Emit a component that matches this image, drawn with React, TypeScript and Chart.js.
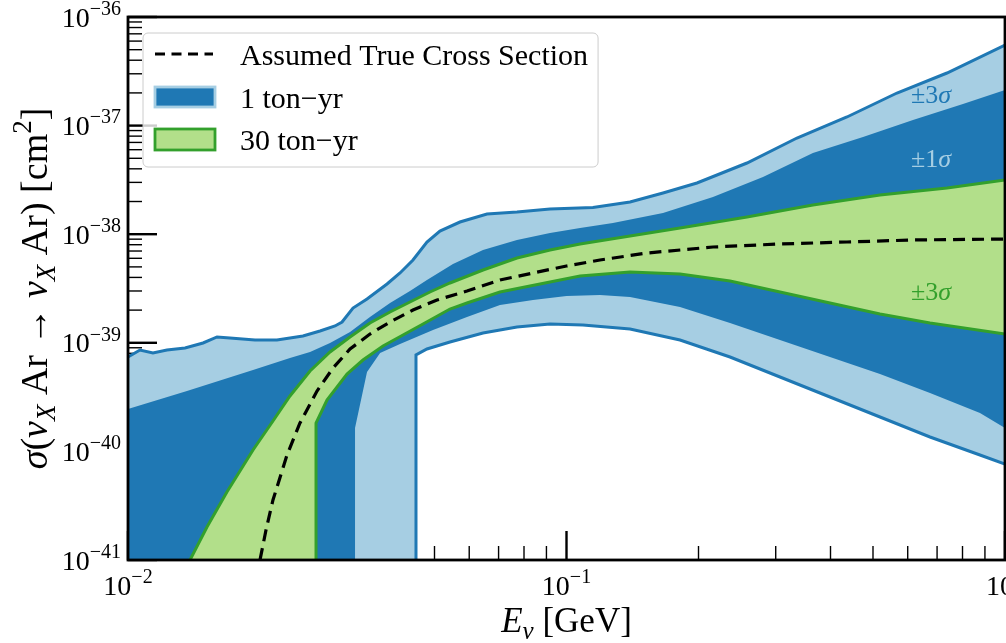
import React, { useEffect, useRef } from 'react';
import { Chart, registerables } from 'chart.js';

Chart.register(...registerables);

// ---------------- axes ----------------
const X_MIN = 0.01;
const X_MAX = 1;
const Y_MIN = 1e-41;
const Y_MAX = 1e-36;
const FLOOR = 1e-42; // below the visible range (vertical drop-offs)

const X_TICKS = [0.01, 0.1, 1];
const X_TICK_LABELS = [['10', '−2'], ['10', '−1'], ['10', '0']];
const Y_TICKS = [1e-41, 1e-40, 1e-39, 1e-38, 1e-37, 1e-36];
const Y_TICK_LABELS = [['10', '−41'], ['10', '−40'], ['10', '−39'], ['10', '−38'], ['10', '−37'], ['10', '−36']];
const MINOR_STEPS = [2, 3, 4, 5, 6, 7, 8, 9];

// ---------------- data (E in GeV, sigma in cm^2) ----------------
// 1 ton-yr, +3 sigma edge
const UP3_E = [0.01, 0.01065, 0.0114, 0.01227, 0.01349, 0.01483, 0.01596, 0.01708, 0.01948, 0.02186, 0.02506, 0.02741, 0.02966, 0.03077, 0.03259, 0.03508, 0.03897, 0.04172, 0.04466, 0.04806, 0.05145, 0.05715, 0.06587, 0.0771, 0.09171, 0.1149, 0.1396, 0.166, 0.1984, 0.258, 0.3354, 0.4361, 0.5671, 0.7374, 1.0];
const UP3_SIGMA = [7.4e-40, 8.58e-40, 8.05e-40, 8.58e-40, 8.96e-40, 9.96e-40, 1.131e-39, 1.107e-39, 1.061e-39, 1.061e-39, 1.155e-39, 1.284e-39, 1.428e-39, 1.554e-39, 2.091e-39, 2.531e-39, 3.478e-39, 4.392e-39, 5.785e-39, 8.478e-39, 1.07e-38, 1.295e-38, 1.535e-38, 1.601e-38, 1.706e-38, 1.76e-38, 1.979e-38, 2.395e-38, 2.961e-38, 4.524e-38, 7.686e-38, 1.2e-37, 1.996e-37, 3.05e-37, 5.523e-37];
// 1 ton-yr, -3 sigma edge
const LO3_E = [0.04537, 0.04537, 0.04806, 0.05423, 0.0645, 0.0771, 0.09171, 0.109, 0.1396, 0.1815, 0.236, 0.3068, 0.3989, 0.5187, 0.6745, 0.8769, 1.0];
const LO3_SIGMA = [FLOOR, 7.72e-40, 8.77e-40, 1.017e-39, 1.231e-39, 1.398e-39, 1.49e-39, 1.458e-39, 1.34e-39, 1.061e-39, 7.4e-40, 4.842e-40, 3.17e-40, 2.074e-40, 1.357e-40, 9.27e-41, 7.66e-41];
// 1 ton-yr, +1 sigma edge
const UP1_E = [0.01, 0.01363, 0.01928, 0.02341, 0.02601, 0.02889, 0.03209, 0.03563, 0.03959, 0.04396, 0.04806, 0.0551, 0.0645, 0.0771, 0.09171, 0.1074, 0.1276, 0.166, 0.2158, 0.2806, 0.3647, 0.4745, 0.6168, 0.8019, 1.0];
const UP1_SIGMA = [2.457e-40, 3.6e-40, 5.617e-40, 7.244e-40, 8.23e-40, 9.96e-40, 1.257e-39, 1.729e-39, 2.325e-39, 2.999e-39, 3.787e-39, 5.316e-39, 7.153e-39, 8.845e-39, 1.026e-38, 1.141e-38, 1.268e-38, 1.568e-38, 2.201e-38, 3.363e-38, 5.593e-38, 7.85e-38, 1.126e-37, 1.581e-37, 2.127e-37];
// 1 ton-yr, -1 sigma edge
const LO1_E = [0.03294, 0.03294, 0.03508, 0.03757, 0.04172, 0.04961, 0.0593, 0.07052, 0.08387, 0.1, 0.1192, 0.1396, 0.1815, 0.236, 0.3068, 0.3989, 0.5187, 0.6745, 0.8769, 1.0];
const LO1_SIGMA = [FLOOR, 1.642e-40, 5.384e-40, 8.05e-40, 9.75e-40, 1.311e-39, 1.729e-39, 2.228e-39, 2.478e-39, 2.697e-39, 2.755e-39, 2.64e-39, 2.136e-39, 1.522e-39, 1.061e-39, 7.4e-40, 5.16e-40, 3.45e-40, 2.257e-40, 1.642e-40];
// 30 ton-yr, upper edge
const UP30_E = [0.01385, 0.01514, 0.01681, 0.01928, 0.02141, 0.02341, 0.02601, 0.02889, 0.03209, 0.03563, 0.03959, 0.04396, 0.04883, 0.05423, 0.0645, 0.0771, 0.09171, 0.1074, 0.1396, 0.1815, 0.258, 0.3647, 0.5187, 0.7374, 1.0];
const UP30_SIGMA = [1e-41, 2.013e-41, 4.228e-41, 1.03e-40, 1.905e-40, 3.236e-40, 5.499e-40, 8.23e-40, 1.131e-39, 1.522e-39, 1.922e-39, 2.375e-39, 2.936e-39, 3.553e-39, 4.68e-39, 6.035e-39, 7.153e-39, 8.126e-39, 9.625e-39, 1.141e-38, 1.44e-38, 1.858e-38, 2.296e-38, 2.663e-38, 3.155e-38];
// 30 ton-yr, lower edge
const LO30_E = [0.02684, 0.02684, 0.02843, 0.03158, 0.03434, 0.03816, 0.04238, 0.04707, 0.05423, 0.0593, 0.07052, 0.09171, 0.1074, 0.1396, 0.1815, 0.236, 0.3068, 0.3989, 0.5187, 0.6745, 1.0];
const LO30_SIGMA = [FLOOR, 1.826e-40, 2.973e-40, 5.16e-40, 6.943e-40, 9.34e-40, 1.18e-39, 1.49e-39, 2.047e-39, 2.325e-39, 2.936e-39, 3.63e-39, 4.122e-39, 4.486e-39, 4.3e-39, 3.708e-39, 2.936e-39, 2.325e-39, 1.842e-39, 1.522e-39, 1.205e-39];
// assumed true cross section
const TRUE_E = [0.01968, 0.02, 0.02064, 0.02141, 0.02305, 0.02467, 0.02698, 0.02935, 0.03209, 0.03563, 0.03959, 0.04466, 0.05066, 0.0593, 0.07052, 0.08387, 0.1, 0.1192, 0.1526, 0.2158, 0.3068, 0.4361, 0.6168, 1.0];
const TRUE_SIGMA = [3e-42, 1e-41, 1.888e-41, 3.568e-41, 9.27e-41, 1.826e-40, 3.6e-40, 5.861e-40, 8.77e-40, 1.205e-39, 1.554e-39, 2.004e-39, 2.478e-39, 2.999e-39, 3.787e-39, 4.392e-39, 5.095e-39, 5.785e-39, 6.712e-39, 7.62e-39, 8.126e-39, 8.478e-39, 8.845e-39, 9.03e-39];

// in-plot annotations
const ANNOT_TEXT = ['±3σ', '±1σ', '±3σ'];
const ANNOT_E = [0.678, 0.678, 0.678];
const ANNOT_SIGMA = [1.614e-37, 4.157e-38, 2.478e-39];

const LEGEND_LABELS = ['Assumed True Cross Section', '1 ton−yr', '30 ton−yr'];

// ---------------- styles ----------------
const LIGHT_BLUE = '#a6cee3';
const DARK_BLUE = '#1f78b4';
const LIGHT_GREEN = '#b2df8a';
const GREEN = '#33a02c';
const ANNOT_COLORS = [DARK_BLUE, LIGHT_BLUE, GREEN];
const SERIF = '"Liberation Serif", "DejaVu Serif", serif';

type Run = { t: string; italic?: boolean; sub?: boolean; sup?: boolean };

const Y_TITLE: Run[] = [
  { t: 'σ', italic: true }, { t: '(' }, { t: 'ν', italic: true }, { t: 'X', italic: true, sub: true },
  { t: ' Ar → ' }, { t: 'ν', italic: true }, { t: 'X', italic: true, sub: true },
  { t: ' Ar) [cm' }, { t: '2', sup: true }, { t: ']' },
];
const X_TITLE: Run[] = [{ t: 'E', italic: true }, { t: 'ν', italic: true, sub: true }, { t: ' [GeV]' }];

const pairs = (xs: number[], ys: number[]) => xs.map((x, i) => ({ x, y: ys[i] }));
const band = (ue: number[], us: number[], le: number[], ls: number[], closeE?: number) => {
  const p = pairs(ue, us).concat(pairs(le, ls).reverse());
  if (closeE !== undefined) p.push({ x: closeE, y: FLOOR });
  return p;
};

function drawRuns(ctx: CanvasRenderingContext2D, runs: Run[], size: number, ax: number, by: number, align: 'center' | 'right' = 'center', supScale = 0.7) {
  const fontFor = (r: Run) => `${r.italic ? 'italic ' : ''}${r.sub || r.sup ? Math.round(size * supScale) : size}px ${SERIF}`;
  const widths = runs.map((r) => { ctx.font = fontFor(r); return ctx.measureText(r.t).width; });
  const total = widths.reduce((a, b) => a + b, 0);
  let x = align === 'center' ? ax - total / 2 : ax - total;
  ctx.textAlign = 'left';
  ctx.textBaseline = 'alphabetic';
  runs.forEach((r, i) => {
    ctx.font = fontFor(r);
    const dy = r.sub ? size * 0.2 : r.sup ? -size * 0.42 : 0;
    ctx.fillText(r.t, x, by + dy);
    x += widths[i];
  });
}

const decor = {
  id: 'decor',
  beforeDatasetsDraw(chart: any) {
    const { ctx, chartArea: ca, scales } = chart;
    const xs = scales.x, ys = scales.y;
    ctx.save();
    ctx.strokeStyle = '#000';
    const tick = (major: boolean, horiz: boolean, p: number) => {
      ctx.lineWidth = major ? 2.4 : 1.4;
      const len = major ? 29 : 14;
      ctx.beginPath();
      if (horiz) { ctx.moveTo(p, ca.bottom); ctx.lineTo(p, ca.bottom - len); }
      else { ctx.moveTo(ca.left, p); ctx.lineTo(ca.left + len, p); }
      ctx.stroke();
    };
    X_TICKS.forEach((v, i) => {
      tick(true, true, xs.getPixelForValue(v));
      if (i < X_TICKS.length - 1) MINOR_STEPS.forEach((m) => tick(false, true, xs.getPixelForValue(v * m)));
    });
    Y_TICKS.forEach((v, i) => {
      tick(true, false, ys.getPixelForValue(v));
      if (i < Y_TICKS.length - 1) MINOR_STEPS.forEach((m) => tick(false, false, ys.getPixelForValue(v * m)));
    });
    ctx.restore();
  },
  afterDatasetsDraw(chart: any) {
    const { ctx, chartArea: ca, scales } = chart;
    ctx.save();
    // annotations
    ANNOT_TEXT.forEach((t, i) => {
      const x = scales.x.getPixelForValue(ANNOT_E[i]);
      const y = scales.y.getPixelForValue(ANNOT_SIGMA[i]);
      ctx.fillStyle = ANNOT_COLORS[i];
      drawRuns(ctx, [{ t: t.slice(0, -1) }, { t: t.slice(-1), italic: true }], 26, x, y);
    });
    // frame
    ctx.strokeStyle = '#000';
    ctx.lineWidth = 2.8;
    ctx.strokeRect(ca.left, ca.top, ca.right - ca.left, ca.bottom - ca.top);
    ctx.restore();
  },
  afterDraw(chart: any) {
    const { ctx, chartArea: ca, scales } = chart;
    ctx.save();
    ctx.fillStyle = '#000';
    // tick labels (base + raised exponent), placed with the chart's scales
    X_TICKS.forEach((v, i) => {
      const [b, e] = X_TICK_LABELS[i];
      drawRuns(ctx, [{ t: b }, { t: e, sup: true }], 28, scales.x.getPixelForValue(v), ca.bottom + 35);
    });
    Y_TICKS.forEach((v, i) => {
      const [b, e] = Y_TICK_LABELS[i];
      drawRuns(ctx, [{ t: b }, { t: e, sup: true }], 28, ca.left - 7, scales.y.getPixelForValue(v) + 9.5, 'right');
    });
    // axis titles
    drawRuns(ctx, X_TITLE, 35, (ca.left + ca.right) / 2, ca.bottom + 72);
    ctx.save();
    ctx.translate(ca.left - 81, (ca.top + ca.bottom) / 2);
    ctx.rotate(-Math.PI / 2);
    drawRuns(ctx, Y_TITLE, 38, 0, 0);
    ctx.restore();
    // legend
    const lx = ca.left + 15, ly = ca.top + 16;
    ctx.font = `30px ${SERIF}`;
    const tw = Math.max(...LEGEND_LABELS.map((t) => ctx.measureText(t).width));
    const w = 97 + tw + 10, h = 134, r = 5;
    ctx.beginPath();
    ctx.moveTo(lx + r, ly);
    ctx.lineTo(lx + w - r, ly);
    ctx.arcTo(lx + w, ly, lx + w, ly + r, r);
    ctx.lineTo(lx + w, ly + h - r);
    ctx.arcTo(lx + w, ly + h, lx + w - r, ly + h, r);
    ctx.lineTo(lx + r, ly + h);
    ctx.arcTo(lx, ly + h, lx, ly + h - r, r);
    ctx.lineTo(lx, ly + r);
    ctx.arcTo(lx, ly, lx + r, ly, r);
    ctx.closePath();
    ctx.fillStyle = 'rgba(255,255,255,0.8)';
    ctx.fill();
    ctx.strokeStyle = '#cccccc';
    ctx.lineWidth = 1;
    ctx.stroke();
    // row 0: dashed line
    ctx.setLineDash([10, 6.5]);
    ctx.strokeStyle = '#000';
    ctx.lineWidth = 3.2;
    ctx.beginPath();
    ctx.moveTo(lx + 12, ly + 21);
    ctx.lineTo(lx + 70, ly + 21);
    ctx.stroke();
    ctx.setLineDash([]);
    // rows 1 & 2: patches
    ctx.lineWidth = 2.8;
    ctx.fillStyle = DARK_BLUE;
    ctx.fillRect(lx + 12, ly + 54, 60, 20);
    ctx.strokeStyle = LIGHT_BLUE;
    ctx.strokeRect(lx + 12, ly + 54, 60, 20);
    ctx.fillStyle = LIGHT_GREEN;
    ctx.fillRect(lx + 12, ly + 96, 60, 21);
    ctx.strokeStyle = GREEN;
    ctx.strokeRect(lx + 12, ly + 96, 60, 21);
    // labels
    ctx.fillStyle = '#000';
    ctx.font = `30px ${SERIF}`;
    ctx.textAlign = 'left';
    ctx.textBaseline = 'alphabetic';
    const baselines = [32, 75, 117];
    LEGEND_LABELS.forEach((t, i) => ctx.fillText(t, lx + 97, ly + baselines[i]));
    ctx.restore();
  },
};

const lineDs = (label: string, data: any[], color: string, width: number, order: number, dash: number[] = []) => ({
  label, data, borderColor: color, borderWidth: width, borderDash: dash, fill: false,
  pointRadius: 0, pointHitRadius: 0, tension: 0, order,
});
const bandDs = (label: string, data: any[], color: string, order: number) => ({
  label, data, borderColor: 'rgba(0,0,0,0)', borderWidth: 0, backgroundColor: color, fill: 'shape',
  pointRadius: 0, pointHitRadius: 0, tension: 0, order,
});

export default function App() {
  const ref = useRef<HTMLCanvasElement>(null);
  useEffect(() => {
    if (!ref.current) return;
    const chart = new Chart(ref.current, {
      type: 'line',
      data: {
        datasets: [
          lineDs(LEGEND_LABELS[0], pairs(TRUE_E, TRUE_SIGMA), '#000', 3.2, 0, [12, 7]),
          lineDs('30 ton−yr upper', pairs(UP30_E, UP30_SIGMA), GREEN, 3, 1),
          lineDs('30 ton−yr lower', pairs(LO30_E, LO30_SIGMA), GREEN, 3, 1),
          bandDs(LEGEND_LABELS[2], band(UP30_E, UP30_SIGMA, LO30_E, LO30_SIGMA), LIGHT_GREEN, 2),
          lineDs('1 ton−yr +3σ', pairs(UP3_E, UP3_SIGMA), DARK_BLUE, 3, 3),
          lineDs('1 ton−yr −3σ', pairs(LO3_E, LO3_SIGMA), DARK_BLUE, 3, 3),
          bandDs(LEGEND_LABELS[1] + ' ±1σ', band(UP1_E, UP1_SIGMA, LO1_E, LO1_SIGMA, X_MIN), DARK_BLUE, 4),
          bandDs(LEGEND_LABELS[1] + ' ±3σ', band(UP3_E, UP3_SIGMA, LO3_E, LO3_SIGMA, X_MIN), LIGHT_BLUE, 5),
        ] as any,
      },
      options: {
        responsive: false,
        devicePixelRatio: 1,
        animation: false,
        events: [],
        layout: { padding: { left: 0, top: 17, right: 1, bottom: 0 } },
        plugins: { legend: { display: false }, tooltip: { enabled: false } },
        scales: {
          x: {
            type: 'logarithmic',
            min: X_MIN,
            max: X_MAX,
            afterBuildTicks: (s: any) => { s.ticks = X_TICKS.map((v) => ({ value: v })); },
            afterFit: (s: any) => { s.height = 83; s.paddingLeft = 0; s.paddingRight = 0; },
            ticks: { display: false, autoSkip: false, maxRotation: 0, minRotation: 0 },
            grid: { display: false, drawTicks: false },
            border: { display: false },
          },
          y: {
            type: 'logarithmic',
            min: Y_MIN,
            max: Y_MAX,
            afterBuildTicks: (s: any) => { s.ticks = Y_TICKS.map((v) => ({ value: v })); },
            afterFit: (s: any) => { s.width = 128; s.paddingTop = 0; s.paddingBottom = 0; },
            ticks: { display: false, autoSkip: false },
            grid: { display: false, drawTicks: false },
            border: { display: false },
          },
        },
      } as any,
      plugins: [decor],
    });
    return () => chart.destroy();
  }, []);
  return (
    <div style={{ position: 'absolute', left: 0, top: 0, width: 1006, height: 643, background: '#fff' }}>
      <canvas ref={ref} width={1006} height={643} style={{ display: 'block', width: 1006, height: 643 }} />
    </div>
  );
}
